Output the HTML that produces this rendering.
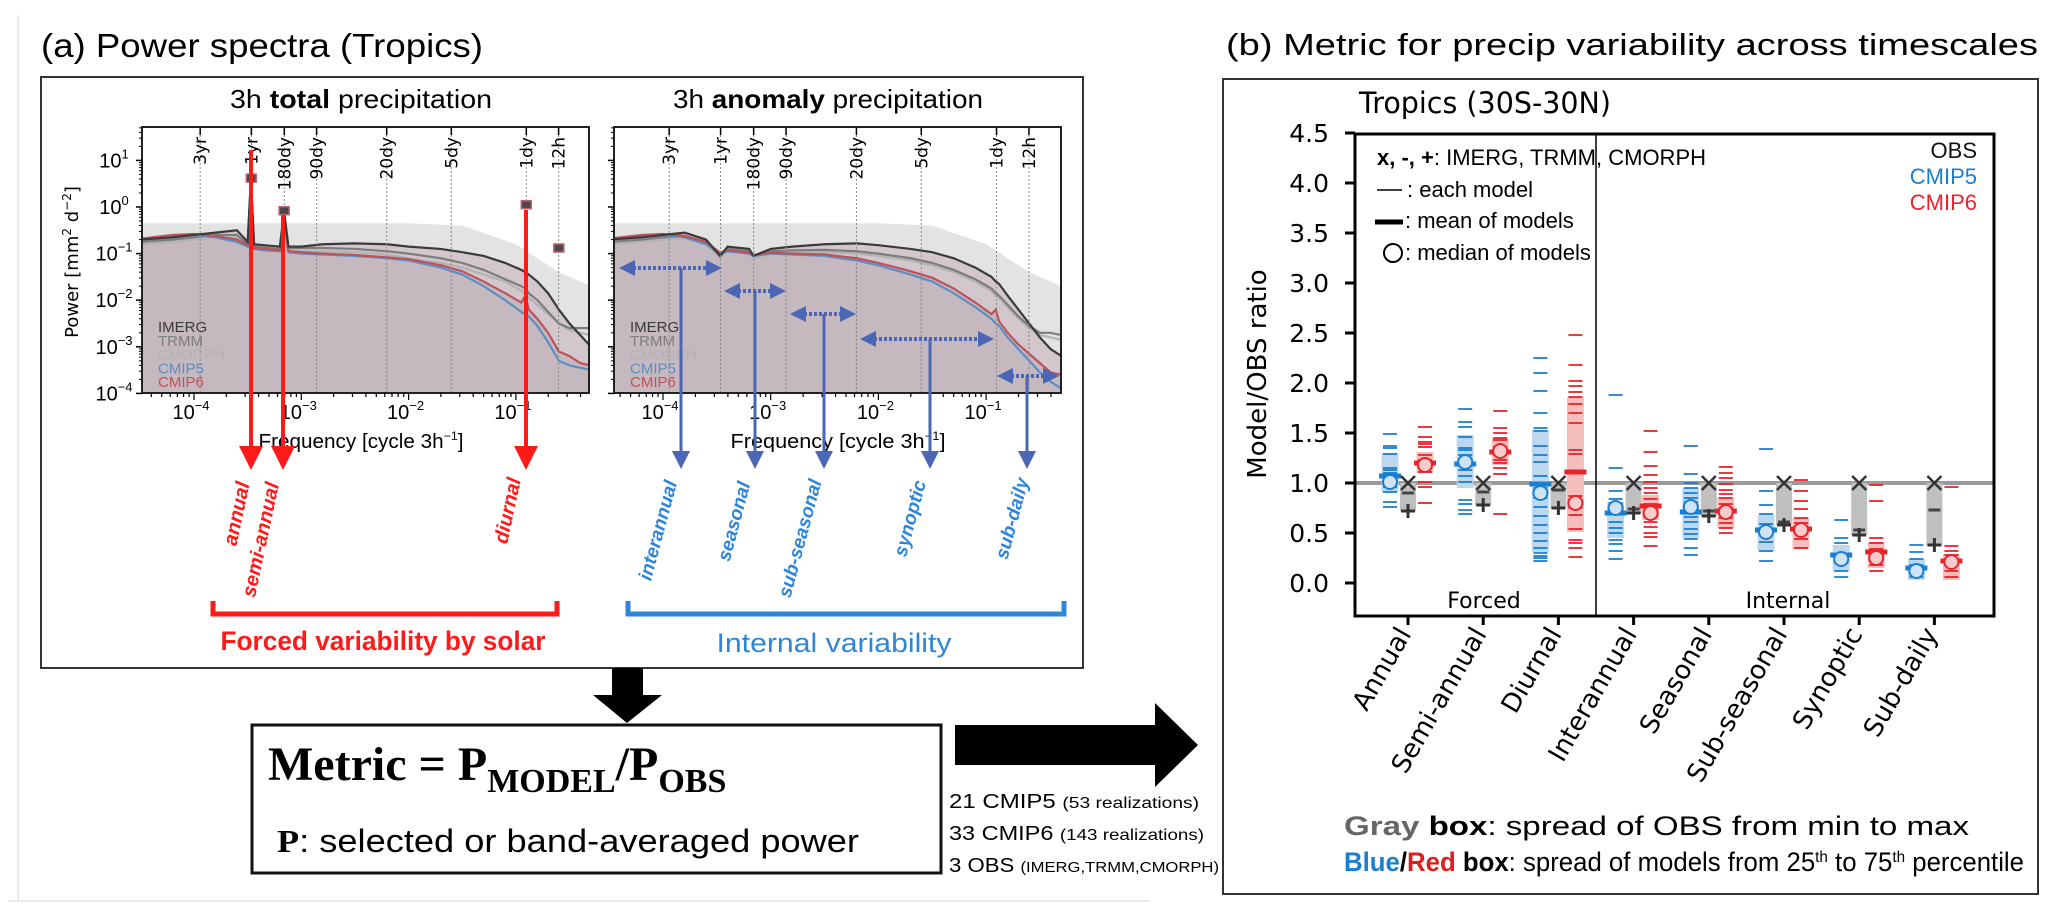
<!DOCTYPE html>
<html><head><meta charset="utf-8">
<style>
html,body{margin:0;padding:0;background:#fff;}
svg{display:block;}
text{font-family:"Liberation Sans",sans-serif;}
.dv{font-family:"DejaVu Sans","Liberation Sans",sans-serif;}
.sf{font-family:"Liberation Serif",serif;}
</style></head>
<body>
<svg id="fig" width="2067" height="919" viewBox="0 0 2067 919" xmlns="http://www.w3.org/2000/svg">
<defs>
<marker id="ahR" markerWidth="6" markerHeight="6" refX="5" refY="3" orient="auto" markerUnits="strokeWidth"><path d="M0,0 L6,3 L0,6 z" fill="#ff1a1a"/></marker>
<marker id="ahB" markerWidth="6" markerHeight="6" refX="5" refY="3" orient="auto" markerUnits="strokeWidth"><path d="M0,0 L6,3 L0,6 z" fill="#4a66b4"/></marker>
<marker id="dB" markerWidth="4" markerHeight="4" refX="3" refY="2" orient="auto-start-reverse" markerUnits="strokeWidth"><path d="M0,0 L4,2 L0,4 z" fill="#4a66b4"/></marker>
<clipPath id="clipL"><rect x="142" y="127" width="447" height="266"/></clipPath>
<clipPath id="clipR"><rect x="614" y="127" width="447" height="266"/></clipPath>
</defs>
<line x1="18" y1="15" x2="18" y2="901" stroke="#ececec" stroke-width="2"/>
<line x1="8" y1="901" x2="1150" y2="901" stroke="#ececec" stroke-width="2"/>

<!-- Panel (a) -->
<text x="41" y="57" font-size="33" textLength="442" lengthAdjust="spacingAndGlyphs">(a) Power spectra (Tropics)</text>
<rect x="41" y="77" width="1042" height="591" fill="none" stroke="#333" stroke-width="2"/>
<text x="361" y="108" font-size="26" text-anchor="middle" textLength="262" lengthAdjust="spacingAndGlyphs">3h <tspan font-weight="bold">total</tspan> precipitation</text>
<text x="828" y="108" font-size="26" text-anchor="middle" textLength="310" lengthAdjust="spacingAndGlyphs">3h <tspan font-weight="bold">anomaly</tspan> precipitation</text>
<g id="specL"></g>
<g id="specR"></g>
<text transform="translate(78,262) rotate(-90)" font-size="18" text-anchor="middle" class="dv">Power [mm<tspan font-size="12" dy="-7">2</tspan><tspan dy="7"> d</tspan><tspan font-size="12" dy="-7">−2</tspan><tspan dy="7">]</tspan></text>
<text x="361" y="448" font-size="20" text-anchor="middle" textLength="205" lengthAdjust="spacingAndGlyphs">Frequency [cycle 3h<tspan font-size="12" dy="-8">−1</tspan><tspan dy="8">]</tspan></text>
<text x="838" y="448" font-size="20" text-anchor="middle" textLength="215" lengthAdjust="spacingAndGlyphs">Frequency [cycle 3h<tspan font-size="12" dy="-8">−1</tspan><tspan dy="8">]</tspan></text>

<g stroke="#ff1a1a" stroke-width="4">
<line x1="251" y1="150" x2="251" y2="466" marker-end="url(#ahR)"/>
<line x1="283" y1="215" x2="283" y2="466" marker-end="url(#ahR)"/>
<line x1="526" y1="210" x2="526" y2="466" marker-end="url(#ahR)"/>
</g>
<g font-size="20" font-style="italic" font-weight="bold" fill="#ff1a1a" text-anchor="middle" class="dv">
<text transform="translate(243,515) rotate(-78)">annual</text>
<text transform="translate(267,541) rotate(-78)">semi-annual</text>
<text transform="translate(514,512) rotate(-78)">diurnal</text>
</g>
<g stroke="#4a66b4" stroke-width="3" fill="none">
<line x1="681" y1="268" x2="681" y2="466" marker-end="url(#ahB)"/>
<line x1="755" y1="291" x2="755" y2="466" marker-end="url(#ahB)"/>
<line x1="824" y1="314" x2="824" y2="466" marker-end="url(#ahB)"/>
<line x1="930" y1="339" x2="930" y2="466" marker-end="url(#ahB)"/>
<line x1="1027" y1="376" x2="1027" y2="466" marker-end="url(#ahB)"/>
<g stroke-dasharray="3,2" stroke-width="4">
<line x1="623" y1="268" x2="718" y2="268" marker-start="url(#dB)" marker-end="url(#dB)"/>
<line x1="728" y1="291" x2="782" y2="291" marker-start="url(#dB)" marker-end="url(#dB)"/>
<line x1="794" y1="314" x2="852" y2="314" marker-start="url(#dB)" marker-end="url(#dB)"/>
<line x1="864" y1="339" x2="990" y2="339" marker-start="url(#dB)" marker-end="url(#dB)"/>
<line x1="1001" y1="376" x2="1055" y2="376" marker-start="url(#dB)" marker-end="url(#dB)"/>
</g></g>
<g font-size="19" font-style="italic" font-weight="bold" fill="#2f86d8" text-anchor="middle" class="dv">
<text transform="translate(664,532) rotate(-75)">interannual</text>
<text transform="translate(740,523) rotate(-75)">seasonal</text>
<text transform="translate(806,540) rotate(-75)">sub-seasonal</text>
<text transform="translate(916,520) rotate(-75)">synoptic</text>
<text transform="translate(1018,520) rotate(-75)">sub-daily</text>
</g>
<path d="M213,601 V614 H557 V601" fill="none" stroke="#ff1a1a" stroke-width="5"/>
<path d="M628,601 V614 H1064 V601" fill="none" stroke="#2f86d8" stroke-width="5"/>
<text x="383" y="650" font-size="27" font-weight="bold" fill="#ff1a1a" text-anchor="middle" textLength="325" lengthAdjust="spacingAndGlyphs">Forced variability by solar</text>
<text x="834" y="652" font-size="27" fill="#2f86d8" text-anchor="middle" textLength="235" lengthAdjust="spacingAndGlyphs">Internal variability</text>

<path d="M612,668 H643 V695 H662 L627,723 L593,695 H612 Z" fill="#000"/>
<rect x="252" y="725" width="689" height="148" fill="#fff" stroke="#111" stroke-width="3"/>
<text x="268" y="780" class="sf" font-size="48" font-weight="bold">Metric = P<tspan font-size="34" dy="12">MODEL</tspan><tspan font-size="48" dy="-12">/P</tspan><tspan font-size="34" dy="12">OBS</tspan></text>
<text x="277" y="852" font-size="32" textLength="582" lengthAdjust="spacingAndGlyphs"><tspan class="sf" font-weight="bold">P</tspan>: selected or band-averaged power</text>
<path d="M955,725 H1155 V703 L1198,745 L1155,787 V765 H955 Z" fill="#000"/>
<text x="949" y="808" font-size="20" textLength="250" lengthAdjust="spacingAndGlyphs">21 CMIP5 <tspan font-size="16">(53 realizations)</tspan></text>
<text x="949" y="840" font-size="20" textLength="255" lengthAdjust="spacingAndGlyphs">33 CMIP6 <tspan font-size="16">(143 realizations)</tspan></text>
<text x="949" y="872" font-size="20" textLength="270" lengthAdjust="spacingAndGlyphs">3 OBS <tspan font-size="15">(IMERG,TRMM,CMORPH)</tspan></text>

<!-- Panel (b) -->
<text x="1226" y="55" font-size="31" textLength="812" lengthAdjust="spacingAndGlyphs">(b) Metric for precip variability across timescales</text>
<rect x="1223" y="79" width="815" height="815" fill="none" stroke="#333" stroke-width="2"/>
<text x="1359" y="113" font-size="29" class="dv" textLength="252" lengthAdjust="spacingAndGlyphs">Tropics (30S-30N)</text>
<g id="metric"></g>
<text transform="translate(1266,374) rotate(-90)" font-size="26" text-anchor="middle" class="dv">Model/OBS ratio</text>
<text x="1344" y="835" font-size="27" textLength="625" lengthAdjust="spacingAndGlyphs"><tspan font-weight="bold" fill="#666">Gray</tspan><tspan font-weight="bold"> box</tspan>: spread of OBS from min to max</text>
<text x="1344" y="871" font-size="27" textLength="680" lengthAdjust="spacingAndGlyphs"><tspan font-weight="bold" fill="#1a7fd0">Blue</tspan><tspan font-weight="bold">/</tspan><tspan font-weight="bold" fill="#e01e1e">Red</tspan><tspan font-weight="bold"> box</tspan>: spread of models from 25<tspan font-size="16" dy="-9">th</tspan><tspan dy="9"> to 75</tspan><tspan font-size="16" dy="-9">th</tspan><tspan dy="9"> percentile</tspan></text>
</svg>
<script>
// ---------- spectra data (log10 frequency, log10 power) ----------
const totalFreq = [-4.5,-4.2,-4.0,-3.8,-3.6,-3.5,-3.47,-3.44,-3.35,-3.2,-3.16,-3.12,-3.0,-2.8,-2.5,-2.2,-2.0,-1.7,-1.5,-1.3,-1.1,-0.95,-0.91,-0.88,-0.8,-0.7,-0.6,-0.5,-0.4,-0.3];
const totalImerg = [-0.7,-0.65,-0.6,-0.55,-0.5,-0.75,0.6,-0.8,-0.82,-0.85,-0.1,-0.85,-0.85,-0.8,-0.78,-0.8,-0.85,-0.9,-0.97,-1.05,-1.2,-1.35,-1.4,-1.45,-1.6,-1.85,-2.2,-2.5,-2.75,-3.0];
const totalTrmm = [-0.75,-0.7,-0.65,-0.6,-0.6,-0.8,0.55,-0.85,-0.87,-0.9,-0.15,-0.88,-0.88,-0.88,-0.9,-0.95,-1.0,-1.1,-1.2,-1.35,-1.55,-1.7,-1.75,-1.85,-2.0,-2.25,-2.5,-2.6,-2.6,-2.6];
const totalCmorph = [-0.8,-0.75,-0.7,-0.65,-0.65,-0.85,0.5,-0.9,-0.92,-0.95,-0.2,-0.92,-0.95,-0.95,-0.97,-1.02,-1.1,-1.2,-1.3,-1.45,-1.6,-1.8,-1.85,-1.95,-2.1,-2.3,-2.5,-2.65,-2.7,-2.75];
const totalCmip5 = [-0.7,-0.62,-0.6,-0.65,-0.75,-0.85,0.55,-0.9,-0.93,-0.95,-0.2,-0.97,-1.0,-1.02,-1.05,-1.1,-1.15,-1.3,-1.45,-1.7,-2.0,-2.25,-2.3,-2.35,-2.55,-2.9,-3.3,-3.4,-3.45,-3.5];
const totalCmip6 = [-0.68,-0.6,-0.58,-0.62,-0.7,-0.82,0.5,-0.88,-0.9,-0.93,-0.25,-0.95,-0.97,-1.0,-1.03,-1.08,-1.12,-1.25,-1.38,-1.6,-1.85,-2.05,-1.9,-2.2,-2.4,-2.7,-3.1,-3.2,-3.35,-3.4];
const anomFreq = [-4.5,-4.2,-4.0,-3.8,-3.6,-3.47,-3.4,-3.2,-3.16,-3.0,-2.8,-2.5,-2.2,-2.0,-1.7,-1.5,-1.3,-1.1,-0.95,-0.91,-0.88,-0.8,-0.7,-0.6,-0.5,-0.4,-0.3];
const anomImerg = [-0.7,-0.65,-0.6,-0.55,-0.7,-1.05,-0.85,-0.9,-1.05,-0.9,-0.85,-0.8,-0.78,-0.82,-0.9,-0.97,-1.1,-1.3,-1.5,-1.6,-1.65,-1.9,-2.2,-2.5,-2.8,-3.05,-3.2];
const anomTrmm = [-0.75,-0.7,-0.65,-0.62,-0.75,-1.05,-0.9,-0.95,-1.05,-0.95,-0.93,-0.92,-0.95,-1.0,-1.1,-1.2,-1.35,-1.55,-1.75,-1.85,-1.9,-2.1,-2.35,-2.55,-2.7,-2.7,-2.75];
const anomCmorph = [-0.8,-0.75,-0.7,-0.67,-0.8,-1.1,-0.95,-1.0,-1.1,-1.0,-0.98,-0.97,-1.0,-1.05,-1.15,-1.25,-1.4,-1.6,-1.8,-1.9,-1.95,-2.15,-2.4,-2.6,-2.75,-2.8,-2.85];
const anomCmip5 = [-0.7,-0.62,-0.6,-0.65,-0.8,-1.0,-0.95,-1.0,-1.05,-1.0,-1.02,-1.05,-1.15,-1.25,-1.45,-1.6,-1.85,-2.15,-2.4,-2.5,-2.55,-2.8,-3.05,-3.3,-3.55,-3.75,-3.9];
const anomCmip6 = [-0.68,-0.6,-0.58,-0.62,-0.75,-0.98,-0.93,-0.98,-1.03,-0.98,-1.0,-1.02,-1.1,-1.2,-1.38,-1.52,-1.75,-2.05,-2.3,-2.2,-2.45,-2.7,-2.95,-3.15,-3.35,-3.55,-3.6];
const envFreq = [-4.5,-2.0,-1.5,-1.0,-0.6,-0.3];
const envTop = [-0.35,-0.35,-0.4,-0.8,-1.4,-1.7];
const periodLabels = ['3yr','1yr','180dy','90dy','20dy','5dy','1dy','12h'];
const periodDays = [1095,365,180,90,20,5,1,0.5];
const yTickExp = [1,0,-1,-2,-3,-4];
const xTickExp = [-4,-3,-2,-1];
const legendNames = ['IMERG','TRMM','CMORPH','CMIP5','CMIP6'];

const NS='http://www.w3.org/2000/svg';
function mk(tag, attrs, parent){const e=document.createElementNS(NS,tag);for(const k in attrs)e.setAttribute(k,attrs[k]);if(parent)parent.appendChild(e);return e;}

function drawSpectrum(g, x0, x1, xAt, clipId, freq, series, isTotal){
  const yAt = lp => 207 - lp*46.6;
  const y0=127, y1=393;
  const c = mk('g',{'clip-path':'url(#'+clipId+')'},g);
  let d='M'+xAt(envFreq[0])+','+y1;
  envFreq.forEach((f,i)=>{d+=' L'+xAt(f)+','+yAt(envTop[i]);});
  d+=' L'+x1+','+y1+' Z';
  const env=mk('path',{d:d,fill:'#e3e3e3'},c);
  
  
  let d2='M'+xAt(freq[0])+','+y1;
  freq.forEach((f,i)=>{d2+=' L'+xAt(f)+','+yAt(Math.max(series[0][i],series[3][i]));});
  d2+=' L'+xAt(freq[freq.length-1])+','+y1+' Z';
  const mf=mk('path',{d:d2,fill:'#d2c7cc'},c);
  
  
  let d3='M'+xAt(freq[0])+','+y1;
  freq.forEach((f,i)=>{d3+=' L'+xAt(f)+','+yAt(series[4][i]);});
  d3+=' L'+xAt(freq[freq.length-1])+','+y1+' Z';
  const mf2=mk('path',{d:d3,fill:'#c6b8bf'},c);
  
  
  periodDays.forEach((pd,i)=>{
    const lf=Math.log10(1/(pd*8)); const x=xAt(lf);
    if(x<x0||x>x1) return;
    const l=mk('line',{x1:x,y1:y0,x2:x,y2:y1,stroke:'#888','stroke-width':1,'stroke-dasharray':'2,2'},g);
    
    
    mk('line',{x1:x,y1:y0,x2:x,y2:y0+8,stroke:'#000','stroke-width':1.5},g);
    const t=mk('text',{transform:'translate('+(x+6)+','+(y0+10)+') rotate(-90)','font-size':17,'text-anchor':'end','class':'dv'},g);
    t.textContent=periodLabels[i];
    
    
  });
  const cols=['#3a3a3a','#7d7d7d','#b3b3b3','#5b8fc4','#c0505a'];
  [2,1,3,4,0].forEach(k=>{
    let p='';
    freq.forEach((f,i)=>{p+=(i?' L':'M')+xAt(f)+','+yAt(series[k][i]);});
    const ln=mk('path',{d:p,fill:'none',stroke:cols[k],'stroke-width':2.2},c);
    
    
  });
  const fr=mk('rect',{x:x0,y:y0,width:x1-x0,height:y1-y0,fill:'none',stroke:'#222','stroke-width':2},g);
  
  
  for(let e=-5;e<=0;e++){for(let m=1;m<10;m++){const lf=e+Math.log10(m);const x=xAt(lf);if(x<x0||x>x1)continue;mk('line',{x1:x,y1:y1,x2:x,y2:y1+(m==1?7:4),stroke:'#000','stroke-width':1.2},g);}}
  xTickExp.forEach(e=>{
    const t=mk('text',{x:xAt(e)-3,y:419,'font-size':20,'text-anchor':'middle'},g);
    t.innerHTML='10<tspan font-size="13" dy="-9">'+(e<0?'−':'')+Math.abs(e)+'</tspan>';
    
    
  });
  yTickExp.forEach(e=>{
    const y=yAt(e);
    mk('line',{x1:x0-6,y1:y,x2:x0,y2:y,stroke:'#000','stroke-width':1.5},g);
    for(let m=2;m<10;m++){const yy=yAt(e+Math.log10(m));if(yy>y0&&yy<y1)mk('line',{x1:x0-3,y1:yy,x2:x0,y2:yy,stroke:'#000','stroke-width':1},g);}
    if(isTotal){
      const t=mk('text',{x:x0-28,y:y+7,'font-size':20,'text-anchor':'middle'},g);
      t.innerHTML='10<tspan font-size="13" dy="-9">'+(e<0?'−':'')+Math.abs(e)+'</tspan>';
      
      
    }
  });
  legendNames.forEach((n,i)=>{
    const t=mk('text',{x:x0+16,y:332+i*13.8,'font-size':15,fill:cols[i]},g);
    t.textContent=n;
    
    
  });
  if(isTotal){
    [[-3.466,0.62],[-3.16,-0.08],[-0.903,0.05],[-0.6,-0.88]].forEach(pk=>{
      const x=xAt(pk[0]), y=yAt(pk[1]);
      const r=mk('rect',{x:x-5,y:y-4,width:10,height:8,fill:'#4a4a4a',stroke:'#c06070','stroke-width':1.5},g);
      
      
    });
  }
}
const gL=document.getElementById('specL'), gR=document.getElementById('specR');
drawSpectrum(gL,142,589,l=>194+(l+4)*107.3,'clipL',totalFreq,[totalImerg,totalTrmm,totalCmorph,totalCmip5,totalCmip6],true);
drawSpectrum(gR,614,1061,l=>663+(l+4)*107.7,'clipR',anomFreq,[anomImerg,anomTrmm,anomCmorph,anomCmip5,anomCmip6],false);

// ---------- metric chart data ----------
const categories = ['Annual','Semi-annual','Diurnal','Interannual','Seasonal','Sub-seasonal','Synoptic','Sub-daily'];
const yTicks = [0.0,0.5,1.0,1.5,2.0,2.5,3.0,3.5,4.0,4.5];
const cmip5Models = [
 [1.49,1.37,1.35,1.29,1.15,1.13,1.10,1.07,1.01,0.96,0.91,0.81,0.76],
 [1.74,1.61,1.56,1.46,1.35,1.33,1.28,1.20,1.13,1.07,1.01,0.83,0.79,0.73,0.69],
 [2.25,2.10,1.92,1.70,1.55,1.52,1.37,1.28,1.21,1.07,0.99,0.95,0.85,0.76,0.67,0.58,0.50,0.42,0.35,0.30,0.27,0.25,0.22],
 [1.88,1.15,0.92,0.84,0.80,0.70,0.61,0.55,0.50,0.43,0.39,0.32,0.24],
 [1.37,1.09,1.00,0.95,0.90,0.85,0.81,0.76,0.71,0.66,0.61,0.54,0.49,0.44,0.35,0.28],
 [1.34,0.92,0.78,0.69,0.59,0.53,0.41,0.32,0.22],
 [0.63,0.45,0.40,0.29,0.20,0.12,0.06],
 [0.38,0.31,0.24,0.18,0.12,0.06]];
const cmip6Models = [
 [1.56,1.46,1.41,1.39,1.36,1.28,1.23,1.16,1.11,1.01,0.96,0.80],
 [1.72,1.55,1.50,1.45,1.43,1.36,1.28,1.23,1.20,1.15,1.09,0.69],
 [2.48,2.18,2.02,1.97,1.91,1.86,1.79,1.70,1.60,1.33,1.29,0.87,0.83,0.79,0.75,0.68,0.54,0.43,0.40,0.35,0.26],
 [1.52,1.31,1.17,1.08,1.01,0.95,0.90,0.84,0.79,0.66,0.61,0.56,0.50,0.46,0.37],
 [1.16,1.10,1.05,0.99,0.93,0.89,0.85,0.79,0.75,0.70,0.65,0.60,0.55,0.50],
 [1.03,0.92,0.82,0.74,0.65,0.60,0.55,0.44,0.35],
 [0.98,0.82,0.45,0.40,0.34,0.27,0.18,0.12],
 [0.96,0.37,0.32,0.28,0.18,0.12,0.06]];
const cmip5BoxLo = [0.91,0.95,0.31,0.45,0.45,0.32,0.12,0.03];
const cmip5BoxHi = [1.30,1.48,1.53,0.81,0.95,0.68,0.38,0.24];
const cmip6BoxLo = [1.10,1.18,0.51,0.63,0.55,0.34,0.15,0.03];
const cmip6BoxHi = [1.31,1.45,1.86,0.88,0.85,0.65,0.41,0.29];
const cmip5Mean = [1.07,1.19,0.99,0.70,0.71,0.53,0.28,0.15];
const cmip5Median = [1.01,1.21,0.90,0.75,0.76,0.51,0.24,0.12];
const cmip6Mean = [1.20,1.31,1.11,0.77,0.72,0.54,0.31,0.22];
const cmip6Median = [1.18,1.32,0.80,0.70,0.71,0.53,0.25,0.21];
const obsImerg = [1.0,1.0,1.0,1.0,1.0,1.0,1.0,1.0];
const obsTrmm = [0.90,0.91,0.93,0.74,0.72,0.61,0.53,0.73];
const obsCmorph = [0.72,0.78,0.75,0.70,0.67,0.58,0.48,0.38];

const gm=document.getElementById('metric');
const AX0=1355, AX1=1994, AY0=134, AY1=616;
const xC = i => 1408 + 75.2*i;
const yV = v => 583 - 100*v;
const BLUE='#1a7fd0', RED='#e8232a';
const ref=mk('line',{x1:AX0,y1:yV(1),x2:AX1,y2:yV(1),stroke:'#9a9a9a','stroke-width':4},gm);


function drawGroup(i, off, lo, hi, models, mean, med, col, boxCol, medFill, nm){
  const cx=xC(i)+off;
  const b=mk('rect',{x:cx-8.5,y:yV(hi),width:17,height:yV(lo)-yV(hi),fill:boxCol},gm);
  
  
  models.forEach(v=>{
    const l=mk('line',{x1:cx-7,y1:yV(v),x2:cx+7,y2:yV(v),stroke:col,'stroke-width':1.8},gm);
    
    
  });
  const m=mk('line',{x1:cx-11,y1:yV(mean),x2:cx+11,y2:yV(mean),stroke:col,'stroke-width':5},gm);
  
  
  const c=mk('circle',{cx:cx,cy:yV(med),r:7,fill:medFill,stroke:col,'stroke-width':2},gm);
  
  
}
categories.forEach((cat,i)=>{
  const cx=xC(i);
  const omax=Math.max(obsImerg[i],obsTrmm[i],obsCmorph[i]), omin=Math.min(obsImerg[i],obsTrmm[i],obsCmorph[i]);
  const gb=mk('rect',{x:cx-8,y:yV(omax),width:16,height:yV(omin)-yV(omax),fill:'#c0c0c0'},gm);
  
  
  drawGroup(i,-18,cmip5BoxLo[i],cmip5BoxHi[i],cmip5Models[i],cmip5Mean[i],cmip5Median[i],BLUE,'#bdd7ef','#cfe3f5','cmip5');
  drawGroup(i,17,cmip6BoxLo[i],cmip6BoxHi[i],cmip6Models[i],cmip6Mean[i],cmip6Median[i],RED,'#f6bdbd','#f8cccc','cmip6');
  const yi=yV(obsImerg[i]);
  const xm=mk('path',{d:'M'+(cx-7)+','+(yi-7)+' L'+(cx+7)+','+(yi+7)+' M'+(cx+7)+','+(yi-7)+' L'+(cx-7)+','+(yi+7),stroke:'#333','stroke-width':2.5,fill:'none'},gm);
  
  
  const yt=yV(obsTrmm[i]);
  const tm=mk('line',{x1:cx-6,y1:yt,x2:cx+6,y2:yt,stroke:'#444','stroke-width':3},gm);
  
  
  const yc=yV(obsCmorph[i]);
  const pm=mk('path',{d:'M'+(cx-7)+','+yc+' H'+(cx+7)+' M'+cx+','+(yc-7)+' V'+(yc+7),stroke:'#333','stroke-width':3,fill:'none'},gm);
  
  
  mk('line',{x1:cx,y1:AY1,x2:cx,y2:AY1+9,stroke:'#000','stroke-width':3},gm);
  const t=mk('text',{transform:'translate('+(cx+4)+','+(AY1+18)+') rotate(-60)','font-size':26,'text-anchor':'end','class':'dv'},gm);
  t.textContent=cat;
  
  
});
yTicks.forEach(v=>{
  const y=yV(v);
  mk('line',{x1:AX0-10,y1:y,x2:AX0,y2:y,stroke:'#000','stroke-width':3},gm);
  const t=mk('text',{x:AX0-26,y:y+9,'font-size':25,'text-anchor':'end','class':'dv'},gm);
  t.textContent=v.toFixed(1);
  
  
});
const dv=mk('line',{x1:1596,y1:AY0,x2:1596,y2:AY1,stroke:'#000','stroke-width':1.5},gm);


const fr=mk('rect',{x:AX0,y:AY0,width:AX1-AX0,height:AY1-AY0,fill:'none',stroke:'#000','stroke-width':3},gm);


const tf=mk('text',{x:1484,y:608,'font-size':22,'text-anchor':'middle','class':'dv'},gm);
tf.textContent='Forced';


const ti=mk('text',{x:1788,y:608,'font-size':22,'text-anchor':'middle','class':'dv'},gm);
ti.textContent='Internal';


const leg=mk('g',{'font-size':22,'class':'dv'},gm);


const l1=mk('text',{x:1377,y:165},leg); l1.innerHTML='<tspan font-weight="bold">x, -, +</tspan>: IMERG, TRMM, CMORPH';


mk('line',{x1:1377,y1:190,x2:1402,y2:190,stroke:'#000','stroke-width':1.5},leg);
const l2=mk('text',{x:1407,y:197},leg); l2.textContent=': each model';


mk('line',{x1:1375,y1:222,x2:1403,y2:222,stroke:'#000','stroke-width':5},leg);
const l3=mk('text',{x:1405,y:228},leg); l3.textContent=': mean of models';


mk('circle',{cx:1393,cy:253,r:9,fill:'none',stroke:'#000','stroke-width':2},leg);
const l4=mk('text',{x:1405,y:260},leg); l4.textContent=': median of models';


[['OBS','#111',158],['CMIP5',BLUE,184],['CMIP6',RED,210]].forEach(a=>{
  const t=mk('text',{x:1977,y:a[2],'text-anchor':'end',fill:a[1]},leg); t.textContent=a[0];
  
  
});
</script>
</body></html>
